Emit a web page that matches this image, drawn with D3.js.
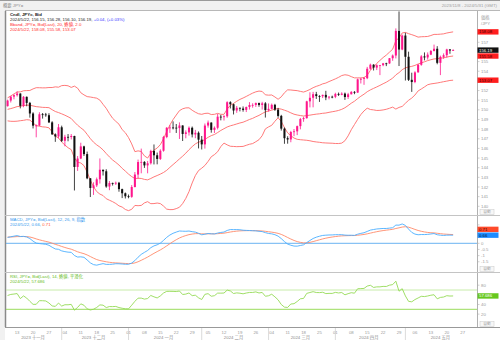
<!DOCTYPE html>
<html>
<head>
<meta charset="utf-8">
<script src="https://cdn.jsdelivr.net/npm/d3@7"></script>
<style>
  html, body { margin: 0; padding: 0; background: #ffffff; }
  svg { display: block; font-family: "Liberation Sans", Arial, "Noto Sans CJK JP", sans-serif; }
</style>
</head>
<body>
<svg id="chart" width="500" height="340"></svg>
<script>
// ---------- data ----------
// Closing prices before the visible window (2023-08-01 .. 2023-11-07), used to seed the indicators
const warmupCloses = [
  143.34, 143.34, 142.56, 141.76, 142.48, 143.37, 143.76, 144.73, 144.95, 145.57,
  145.58, 146.35, 145.83, 145.38, 146.20, 145.88, 144.82, 146.09, 146.41, 146.54,
  145.88, 146.17, 145.54,
  146.22, 146.55, 147.69, 147.70, 147.29, 147.84, 146.59, 147.11, 147.43, 147.48,
  147.86, 147.63, 147.86, 148.35, 147.57, 148.38, 148.82, 149.06, 149.64, 149.30, 149.37,
  149.86, 149.03, 149.07, 148.50, 149.32, 148.51, 148.74, 149.14, 149.77, 149.57,
  149.48, 149.81, 149.82, 149.84, 149.86, 149.74, 149.89, 150.17, 150.39, 149.63,
  149.12, 151.68,
  150.95, 150.44, 149.39, 150.06, 150.38
];

// Daily candles, 2023-11-08 .. 2024-05-22 (weekdays)
const open = [
  150.38,150.96,151.37,151.52,151.69,150.41,151.35,150.72,149.62,148.36,148.38,149.54,149.52,149.44,148.70,147.46,147.24,
  148.19,146.79,147.20,147.18,147.29,144.08,144.95,146.21,145.41,142.90,141.90,142.17,142.80,143.79,143.63,142.05,142.42,142.38,142.44,141.78,141.35,
  141.04,140.98,142.00,143.29,144.59,144.60,144.24,144.46,145.74,145.29,144.91,145.76,147.18,148.14,148.17,148.15,148.11,148.38,147.50,147.66,148.14,147.45,147.62,
  146.91,146.42,148.37,148.68,147.92,148.14,149.29,149.28,149.33,150.79,150.58,149.93,150.21,150.13,149.99,150.29,150.50,150.51,150.70,150.51,150.67,
  149.97,150.10,150.52,150.02,149.37,148.05,147.06,146.93,147.70,147.77,148.31,149.04,149.14,150.88,151.25,151.62,151.43,151.41,151.55,151.29,151.36,
  151.35,151.65,151.56,151.68,151.33,151.61,151.86,151.79,153.16,153.21,153.28,154.26,154.68,154.38,154.62,154.63,154.82,154.81,155.35,155.63,158.18,156.25,
  157.70,155.50,153.11,152.88,153.88,154.67,155.54,155.43,155.72,156.10,156.33,154.87,155.49,155.66,156.26,156.15
];
const high = [
  151.06,151.43,151.60,151.91,151.71,151.43,151.38,150.82,149.75,148.48,149.75,149.67,149.68,149.65,148.82,147.56,148.53,
  148.36,147.41,147.49,147.49,147.31,145.21,146.59,146.28,145.67,142.92,142.49,142.98,144.96,143.79,143.84,142.62,142.45,142.56,142.53,141.83,141.43,
  141.22,142.20,143.55,144.84,145.98,144.68,144.70,145.86,146.41,145.57,145.91,147.30,148.21,148.42,148.80,148.53,148.70,148.39,147.87,148.28,148.27,147.92,147.76,
  147.29,148.58,148.89,148.70,148.28,149.57,149.47,149.44,150.89,150.89,150.64,150.40,150.24,150.35,150.34,150.80,150.68,150.76,150.75,150.83,150.80,
  150.66,150.65,150.62,150.20,149.48,148.17,147.26,147.82,148.01,148.37,149.16,149.28,150.94,151.82,151.86,151.86,151.52,151.57,151.97,151.42,151.47,
  151.77,151.79,151.82,151.79,151.76,151.94,151.94,153.24,153.32,153.40,154.45,154.79,154.73,154.72,154.65,154.86,154.88,155.37,155.74,158.44,160.20,157.80,
  157.99,156.03,153.85,154.00,154.75,155.67,155.95,155.95,156.20,156.76,156.60,155.62,155.85,156.33,156.30,156.28
];
const low = [
  150.34,150.76,151.09,151.38,150.15,150.27,150.37,149.19,148.07,147.15,148.31,149.09,149.28,148.63,147.40,146.68,147.05,
  146.66,146.22,146.74,146.93,141.64,143.67,144.89,145.22,142.81,140.96,141.18,142.00,142.36,143.19,141.92,141.67,142.15,142.21,141.51,140.85,140.81,
  140.83,140.88,141.96,142.89,143.42,143.98,143.42,144.33,144.34,144.35,144.80,145.66,147.06,147.61,147.97,147.60,146.98,146.77,147.05,147.33,147.14,147.06,146.00,
  145.89,145.98,148.15,147.63,147.60,147.97,148.91,148.89,149.18,150.14,149.52,149.69,149.84,149.81,149.77,150.03,150.22,150.30,150.32,150.03,149.20,
  149.82,150.04,149.89,149.19,147.85,146.48,146.49,146.64,147.27,147.38,147.98,148.76,149.08,150.25,150.26,151.13,150.82,151.22,151.00,151.08,151.20,
  151.21,151.44,151.51,151.03,151.13,151.60,151.62,151.75,152.73,152.59,153.18,154.15,154.08,154.12,153.60,154.52,154.53,154.77,155.08,155.33,154.54,156.18,
  153.04,152.99,151.86,152.76,153.87,154.57,155.13,155.21,155.67,156.05,154.72,153.60,155.29,155.42,155.81,156.10
];
const close = [
  150.96,151.37,151.52,151.69,150.41,151.35,150.72,149.62,148.36,148.38,149.54,149.52,149.44,148.70,147.46,147.24,148.19,
  146.79,147.20,147.18,147.29,144.08,144.95,146.21,145.41,142.90,141.90,142.17,142.80,143.79,143.63,142.05,142.42,142.38,142.44,141.78,141.35,141.04,
  140.98,142.00,143.29,144.59,144.60,144.24,144.46,145.74,145.29,144.91,145.76,147.18,148.14,148.17,148.15,148.11,148.38,147.50,147.66,148.14,147.45,147.62,146.91,
  146.42,148.37,148.68,147.92,148.14,149.29,149.28,149.33,150.79,150.58,149.93,150.21,150.13,149.99,150.29,150.50,150.51,150.70,150.51,150.67,149.97,
  150.10,150.52,150.02,149.37,148.05,147.06,146.93,147.70,147.77,148.31,149.04,149.14,150.88,151.25,151.62,151.43,151.41,151.55,151.29,151.36,151.35,
  151.65,151.56,151.68,151.33,151.61,151.86,151.79,153.16,153.21,153.28,154.26,154.68,154.38,154.62,154.63,154.82,154.81,155.35,155.63,158.18,156.25,157.70,
  155.50,153.11,152.88,153.88,154.67,155.54,155.43,155.72,156.10,156.33,154.87,155.49,155.66,156.26,156.15,156.19
];

const monthNames = ["2023 十一月", "2023 十二月", "2024 一月", "2024 二月", "2024 三月", "2024 四月", "2024 五月"];
const priceTicks = [140,141,142,143,144,145,146,147,148,149,150,151,152,153,154,155,156,157,158];
const macdTicks = [1.5, 1, 0.5, 0, -0.5, -1, -1.5];
const rsiTicks = [80, 60, 40, 20];
const rsiLevels = [70, 30];

// ---------- layout ----------
const W = 500, H = 340;
const plotL = 6, plotR = 477;
const mainTop = 11, mainBot = 215;
const macdTop = 216, macdBot = 272;
const rsiTop = 273, rsiBot = 327;
const FS = 4.3;

const svg = d3.select("#chart");

// trading calendar: every weekday from the first session to the end of May
const parse = d3.timeParse("%Y-%m-%d");
const days = d3.timeDay.range(parse("2023-11-08"), parse("2024-06-01")).filter(d => d.getDay() % 6 !== 0);

const x = d3.scaleBand().domain(d3.range(days.length)).range([plotL, plotR]).paddingInner(0.36).paddingOuter(0.18);
const cx = i => x(i) + x.bandwidth() / 2;

const yP = d3.scaleLinear().domain([140, 157]).range([206.3, 42.3]);
const yM = d3.scaleLinear().domain([-2.25, 2.25]).range([271, 215.6]);
const yR = d3.scaleLinear().domain([30, 70]).range([309.3, 290]);

// ---------- indicators ----------
const all = warmupCloses.concat(close);
const off = warmupCloses.length;

// Bollinger bands: 20-day mean, 2 population standard deviations
const bbMid = [], bbUp = [], bbLo = [];
close.forEach((c, i) => {
  const j = i + off;
  const win = all.slice(j - 19, j + 1);
  const m = d3.mean(win);
  const sd = Math.sqrt(d3.mean(win, v => (v - m) * (v - m)));
  bbMid.push(m); bbUp.push(m + 2 * sd); bbLo.push(m - 2 * sd);
});

// MACD 12/26 with a 9-day signal line
function ema(arr, n) {
  const k = 2 / (n + 1), out = [arr[0]];
  for (let i = 1; i < arr.length; i++) out.push(arr[i] * k + out[i - 1] * (1 - k));
  return out;
}
const e12 = ema(all, 12), e26 = ema(all, 26);
const macdAll = e12.map((v, i) => v - e26[i]);
const sigAll = ema(macdAll, 9);
const macd = macdAll.slice(off), signal = sigAll.slice(off);

// RSI 14 with Wilder smoothing
const rsiAll = [];
{
  let ag = 0, al = 0;
  for (let i = 1; i < all.length; i++) {
    const ch = all[i] - all[i - 1];
    const g = Math.max(ch, 0), l = Math.max(-ch, 0);
    if (i <= 14) { ag += g / 14; al += l / 14; }
    else { ag = (ag * 13 + g) / 14; al = (al * 13 + l) / 14; }
    rsiAll[i] = al === 0 ? 100 : 100 - 100 / (1 + ag / al);
  }
}
const rsi = rsiAll.slice(off);
const nL = close.length - 1;

// ---------- frame ----------
svg.append("rect").attr("width", W).attr("height", H).attr("fill", "#ffffff");
svg.append("rect").attr("x", 0).attr("y", 0).attr("width", W).attr("height", mainTop).attr("fill", "#f1f1f1");
svg.append("rect").attr("x", 0).attr("y", 0).attr("width", plotL - 1).attr("height", H).attr("fill", "#f1f1f1");
svg.append("line").attr("x1", 0).attr("x2", W).attr("y1", 0.5).attr("y2", 0.5).attr("stroke", "#9a9a9a");
svg.append("line").attr("x1", plotL - 0.5).attr("x2", plotL - 0.5).attr("y1", mainTop).attr("y2", rsiBot).attr("stroke", "#8a8a8a").attr("stroke-width", 1.5);
svg.append("line").attr("x1", plotL - 1).attr("x2", W).attr("y1", mainTop - 0.5).attr("y2", mainTop - 0.5).attr("stroke", "#b8b8b8");
svg.append("line").attr("x1", plotR + 0.5).attr("x2", plotR + 0.5).attr("y1", mainTop).attr("y2", rsiBot).attr("stroke", "#b0b0b0");
[mainBot + 0.5, macdBot + 0.5].forEach(yy =>
  svg.append("line").attr("x1", plotL - 1).attr("x2", W).attr("y1", yy).attr("y2", yy).attr("stroke", "#c4c4c4"));
svg.append("line").attr("x1", plotL - 1).attr("x2", W).attr("y1", rsiBot + 0.5).attr("y2", rsiBot + 0.5).attr("stroke", "#999999");

svg.append("text").attr("x", 3).attr("y", 7).attr("font-size", FS).attr("fill", "#8a8a8a").text("概要 JPY=");
svg.append("text").attr("x", 497).attr("y", 7).attr("text-anchor", "end").attr("font-size", FS).attr("fill", "#a0a0a0")
  .text("2023/11/8 - 2024/5/31 (GMT)");

// clip paths for the three panes
function clip(id, y0, y1) {
  svg.append("clipPath").attr("id", id).append("rect")
    .attr("x", plotL).attr("y", y0).attr("width", plotR - plotL).attr("height", y1 - y0);
}
clip("cMain", mainTop, mainBot); clip("cMacd", macdTop, macdBot); clip("cRsi", rsiTop, rsiBot);

const line = (ys, arr) => d3.line().x((d, i) => cx(i)).y(d => ys(d))(arr);

// right-hand axis helpers: tick labels are skipped where a value tag sits
const gAx = svg.append("g");
const axisText = (g, xx, yy, t) => g.append("text").attr("x", xx).attr("y", yy).attr("font-size", FS)
  .attr("fill", "#9a9a9a").attr("dominant-baseline", "central").text(t);
function drawTicks(ticks, ys, tagYs) {
  ticks.forEach(v => {
    const yy = ys(v);
    gAx.append("line").attr("x1", plotR).attr("x2", plotR + 2.5).attr("y1", yy).attr("y2", yy).attr("stroke", "#b0b0b0").attr("stroke-width", 0.6);
    if (tagYs.every(t => Math.abs(t - yy) > 5.2)) axisText(gAx, plotR + 4, yy, v);
  });
}
function valueBox(yy, txt, bg, fg) {
  const g = svg.append("g");
  g.append("rect").attr("x", plotR + 0.5).attr("y", yy - 2.7).attr("width", 21).attr("height", 5.4).attr("fill", bg);
  g.append("text").attr("x", plotR + 2).attr("y", yy).attr("dominant-baseline", "central")
    .attr("font-size", FS).attr("fill", fg).text(txt);
}

// ---------- price pane ----------
const gMain = svg.append("g").attr("clip-path", "url(#cMain)");
[bbUp, bbMid, bbLo].forEach(s =>
  gMain.append("path").attr("d", line(yP, s)).attr("fill", "none").attr("stroke", "#ff6a6a").attr("stroke-width", 0.9));

const UP = "#ff168c", DOWN = "#111111";
const candles = gMain.append("g").selectAll("g").data(close).join("g");
candles.append("line")
  .attr("x1", (d, i) => cx(i)).attr("x2", (d, i) => cx(i))
  .attr("y1", (d, i) => yP(high[i])).attr("y2", (d, i) => yP(low[i]))
  .attr("stroke", (d, i) => close[i] >= open[i] ? UP : DOWN).attr("stroke-width", 0.8);
candles.append("rect")
  .attr("x", (d, i) => x(i)).attr("width", x.bandwidth())
  .attr("y", (d, i) => yP(Math.max(open[i], close[i])))
  .attr("height", (d, i) => Math.max(0.8, Math.abs(yP(open[i]) - yP(close[i]))))
  .attr("fill", (d, i) => close[i] >= open[i] ? UP : DOWN);

const priceTags = [yP(bbUp[nL]), yP(close[nL]), yP(bbMid[nL]), yP(bbLo[nL])];
drawTicks(priceTicks, yP, priceTags.concat([17, 23.3]));
axisText(gAx, plotR + 4, 17, "価格");
axisText(gAx, plotR + 4, 23.3, "/JPY");
valueBox(priceTags[0], "158.08", "#ff1e1e", "#3a0000");
valueBox(priceTags[1], "156.19", "#111111", "#ffffff");
valueBox(priceTags[2], "155.58", "#ff1e1e", "#3a0000");
valueBox(priceTags[3], "153.07", "#ff1e1e", "#3a0000");

// ---------- MACD pane ----------
const gMacd = svg.append("g").attr("clip-path", "url(#cMacd)");
gMacd.append("line").attr("x1", plotL).attr("x2", plotR).attr("y1", yM(0)).attr("y2", yM(0)).attr("stroke", "#5aaaf0").attr("stroke-width", 0.9);
gMacd.append("path").attr("d", line(yM, signal)).attr("fill", "none").attr("stroke", "#ff8a6a").attr("stroke-width", 0.9);
gMacd.append("path").attr("d", line(yM, macd)).attr("fill", "none").attr("stroke", "#4aaeff").attr("stroke-width", 0.9);
{
  const yb = yM(macd[nL]);
  const ya = Math.min(yM(signal[nL]), yb - 5.8);
  drawTicks(macdTicks, yM, [ya, yb]);
  valueBox(ya, "0.71", "#ff4a2a", "#3a0000");
  valueBox(yb, "0.66", "#1e8cff", "#001a3a");
}

// ---------- RSI pane ----------
const gRsi = svg.append("g").attr("clip-path", "url(#cRsi)");
gRsi.append("line").attr("x1", plotL).attr("x2", plotR).attr("y1", yR(rsiLevels[0])).attr("y2", yR(rsiLevels[0])).attr("stroke", "#c2eaa0").attr("stroke-width", 0.9);
gRsi.append("line").attr("x1", plotL).attr("x2", plotR).attr("y1", yR(rsiLevels[1])).attr("y2", yR(rsiLevels[1])).attr("stroke", "#8fd84a").attr("stroke-width", 0.9);
gRsi.append("path").attr("d", line(yR, rsi)).attr("fill", "none").attr("stroke", "#94da55").attr("stroke-width", 0.9);
drawTicks(rsiTicks, yR, [yR(rsi[nL])]);
valueBox(yR(rsi[nL]), "57.686", "#66c81e", "#ffffff");

// scale-mode buttons at the bottom of each pane
[mainBot, macdBot, rsiBot].forEach(yb => {
  const g = svg.append("g");
  g.append("rect").attr("x", plotR + 3).attr("y", yb - 5.3).attr("width", 14).attr("height", 5).attr("fill", "#f7f7f7").attr("stroke", "#c8c8c8").attr("stroke-width", 0.5);
  g.append("text").attr("x", plotR + 10).attr("y", yb - 2.8).attr("text-anchor", "middle").attr("dominant-baseline", "central")
    .attr("font-size", 3.8).attr("fill", "#a8a8a8").text("自動");
});

// ---------- legends ----------
function legendRow(yy, parts, bold) {
  const t = svg.append("text").attr("x", 10).attr("y", yy).attr("font-size", FS);
  if (bold) t.attr("font-weight", "bold");
  parts.forEach(([s, c]) => t.append("tspan").attr("fill", c).text(s));
}
legendRow(16, [["Cndl, JPY=, Bid", "#222222"]], true);
legendRow(21, [["2024/5/22, 156.15, 156.28, 156.10, 156.19, ", "#222222"], ["+0.04, (+0.03%)", "#3a3aff"]]);
legendRow(26, [["Bband, JPY=, Bid(Last), 20, 終値, 2.0", "#ff2a2a"]]);
legendRow(31, [["2024/5/22, 158.08, 155.58, 153.07", "#ff2a2a"]]);

legendRow(221, [["MACD, JPY=, Bid(Last), 12, 26, 9, 指数", "#3399ee"]]);
legendRow(226, [["2024/5/22, 0.66, ", "#3399ee"], ["0.71", "#ff5533"]]);

legendRow(278, [["RSI, JPY=, Bid(Last), 14, 終値, 平滑化", "#66bb22"]]);
legendRow(283, [["2024/5/22, 57.686", "#66bb22"]]);

// ---------- date axis ----------
const gDate = svg.append("g");
days.forEach((d, i) => {
  if (d.getDay() === 1) {
    gDate.append("text").attr("x", cx(i)).attr("y", 332.5).attr("text-anchor", "middle").attr("dominant-baseline", "central")
      .attr("font-size", FS).attr("fill", "#9a9a9a").text(d3.timeFormat("%d")(d));
  }
});
const monthGroups = d3.groups(d3.range(days.length), i => d3.timeMonth.floor(days[i]).getTime());
monthGroups.forEach(([m, idx], k) => {
  if (k > 0) {
    gDate.append("line").attr("x1", cx(idx[0])).attr("x2", cx(idx[0])).attr("y1", rsiBot + 1).attr("y2", H)
      .attr("stroke", "#cccccc").attr("stroke-width", 0.7);
  }
  const mid = (cx(idx[0]) + cx(idx[idx.length - 1])) / 2;
  gDate.append("text").attr("x", mid).attr("y", 337.8).attr("text-anchor", "middle").attr("dominant-baseline", "central")
    .attr("font-size", FS).attr("fill", "#8a8a8a").text(monthNames[k]);
});
</script>
</body>
</html>
